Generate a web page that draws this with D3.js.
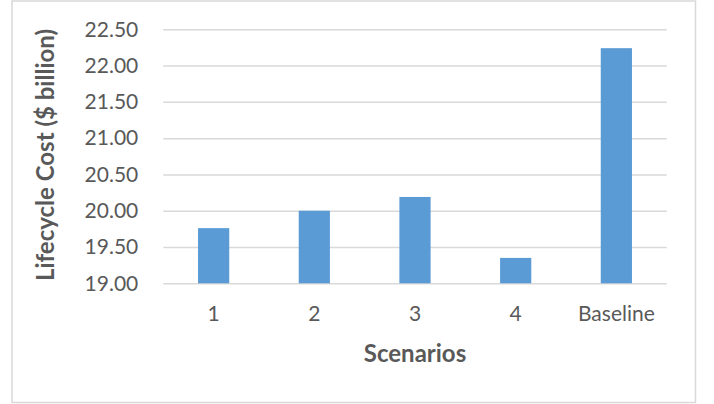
<!DOCTYPE html>
<html>
<head>
<meta charset="utf-8">
<script src="https://cdn.jsdelivr.net/npm/d3@7"></script>
<style>
  html, body { margin: 0; padding: 0; background: #fff; }
  svg { display: block; }
  text { font-family: Lato, "Noto Sans", sans-serif; }
</style>
</head>
<body>
<svg id="chart" width="714" height="404"></svg>
<script>
// Lifecycle cost per scenario, $ billion
const scenarios = ["1", "2", "3", "4", "Baseline"];
const lifecycleCost = [19.76, 20.00, 20.19, 19.35, 22.24];
const yTicks = [19.0, 19.5, 20.0, 20.5, 21.0, 21.5, 22.0, 22.5];

const svg = d3.select("#chart");
const plot = { left: 163.3, right: 666.7, top: 29.3, bottom: 283.3 };

// chart area frame
svg.append("rect")
  .attr("x", 12).attr("y", 1)
  .attr("width", 683.5).attr("height", 401.5)
  .attr("fill", "#fff")
  .attr("stroke", "#d9d9d9")
  .attr("stroke-width", 1.5);

const x = d3.scaleBand()
  .domain(scenarios)
  .range([plot.left, plot.right])
  .paddingInner(0.69)
  .paddingOuter(0.345);

const y = d3.scaleLinear()
  .domain([19, 22.5])
  .range([plot.bottom, plot.top]);

// horizontal gridlines + value labels
const yAxis = d3.axisLeft(y)
  .tickValues(yTicks)
  .tickFormat(d3.format(".2f"))
  .tickSize(-(plot.right - plot.left))
  .tickPadding(25);

const gy = svg.append("g")
  .attr("transform", `translate(${plot.left},0)`)
  .call(yAxis);
gy.select(".domain").remove();
gy.selectAll(".tick line")
  .attr("stroke", "#d9d9d9")
  .attr("stroke-width", 1.5);
gy.selectAll(".tick text")
  .attr("fill", "#595959")
  .style("font-size", "21px");

// bars
svg.append("g")
  .selectAll("rect")
  .data(scenarios.map((s, i) => ({ s, v: lifecycleCost[i] })))
  .join("rect")
  .attr("x", d => x(d.s))
  .attr("width", x.bandwidth())
  .attr("y", d => y(d.v))
  .attr("height", d => y(19) - y(d.v))
  .attr("fill", "#5b9bd5");

// category axis
const xAxis = d3.axisBottom(x).tickSize(0).tickPadding(23);
const gx = svg.append("g")
  .attr("transform", `translate(0,${plot.bottom})`)
  .call(xAxis);
gx.select(".domain").remove();
gx.selectAll(".tick text")
  .attr("fill", "#595959")
  .style("font-size", "21px");

// axis titles
svg.append("text")
  .attr("x", (plot.left + plot.right) / 2)
  .attr("y", 362)
  .attr("text-anchor", "middle")
  .attr("fill", "#595959")
  .style("font-size", "24px")
  .style("font-weight", "bold")
  .text("Scenarios");

svg.append("text")
  .attr("transform", `translate(54,155) rotate(-90)`)
  .attr("text-anchor", "middle")
  .attr("fill", "#595959")
  .style("font-size", "24px")
  .style("font-weight", "bold")
  .text("Lifecycle Cost ($ billion)");
</script>
</body>
</html>
